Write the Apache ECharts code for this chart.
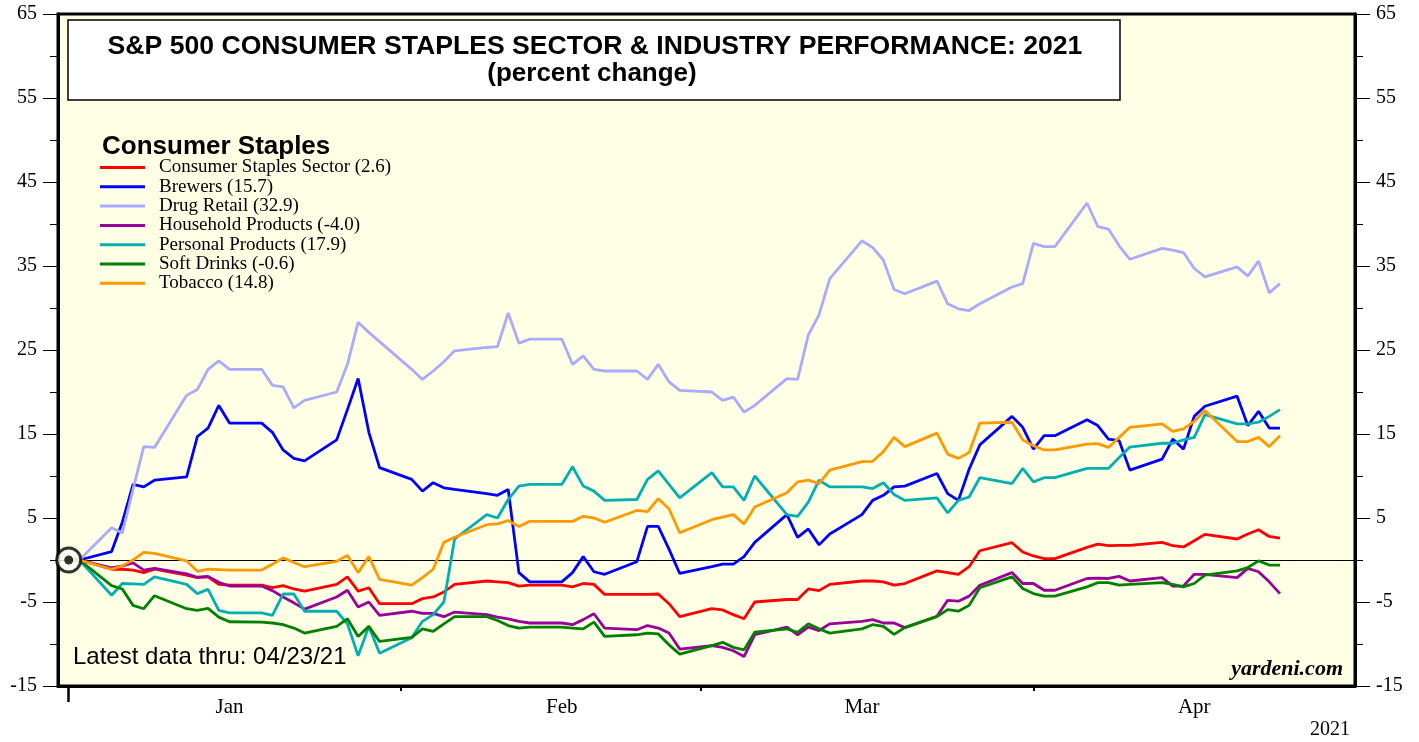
<!DOCTYPE html>
<html>
<head>
<meta charset="utf-8">
<title>S&P 500 Consumer Staples</title>
<script src="https://cdn.jsdelivr.net/npm/echarts@6/dist/echarts.min.js"></script>
<style>
  html, body { margin: 0; padding: 0; background: #fff; }
  #chart { width: 1419px; height: 742px; }
</style>
</head>
<body>
<div id="chart"></div>
<script>
// trading days (holidays carry the previous value)
var dates = [
  '2020-12-31', '2021-01-01',
  '2021-01-04', '2021-01-05', '2021-01-06', '2021-01-07', '2021-01-08',
  '2021-01-11', '2021-01-12', '2021-01-13', '2021-01-14', '2021-01-15',
  '2021-01-18', '2021-01-19', '2021-01-20', '2021-01-21', '2021-01-22',
  '2021-01-25', '2021-01-26', '2021-01-27', '2021-01-28', '2021-01-29',
  '2021-02-01', '2021-02-02', '2021-02-03', '2021-02-04', '2021-02-05',
  '2021-02-08', '2021-02-09', '2021-02-10', '2021-02-11', '2021-02-12',
  '2021-02-15', '2021-02-16', '2021-02-17', '2021-02-18', '2021-02-19',
  '2021-02-22', '2021-02-23', '2021-02-24', '2021-02-25', '2021-02-26',
  '2021-03-01', '2021-03-02', '2021-03-03', '2021-03-04', '2021-03-05',
  '2021-03-08', '2021-03-09', '2021-03-10', '2021-03-11', '2021-03-12',
  '2021-03-15', '2021-03-16', '2021-03-17', '2021-03-18', '2021-03-19',
  '2021-03-22', '2021-03-23', '2021-03-24', '2021-03-25', '2021-03-26',
  '2021-03-29', '2021-03-30', '2021-03-31', '2021-04-01', '2021-04-02',
  '2021-04-05', '2021-04-06', '2021-04-07', '2021-04-08', '2021-04-09',
  '2021-04-12', '2021-04-13', '2021-04-14', '2021-04-15', '2021-04-16',
  '2021-04-19', '2021-04-20', '2021-04-21', '2021-04-22', '2021-04-23'
];

var sector = [0, 0,
  -1.1, -1.1, -1.2, -1.5, -1.1,
  -1.8, -2.1, -2.0, -2.9, -3.0,
  -3.0, -3.3, -3.05, -3.45, -3.7,
  -2.9, -2.0, -3.7, -3.3, -5.2,
  -5.2, -4.6, -4.4, -3.8, -2.9,
  -2.5, -2.6, -2.7, -3.1, -3.0,
  -3.0, -3.2, -2.8, -2.9, -4.1,
  -4.1, -4.1, -4.05, -5.2, -6.75,
  -5.8, -5.95, -6.5, -7.0, -5.0,
  -4.7, -4.7, -3.45, -3.65, -2.9,
  -2.5, -2.5, -2.6, -3.0, -2.8,
  -1.3, -1.5, -1.7, -0.8, 1.1,
  2.06, 0.95, 0.48, 0.16, 0.16,
  1.5, 1.9, 1.7, 1.75, 1.75,
  2.1, 1.7, 1.55, 2.3, 3.05,
  2.5, 3.1, 3.6, 2.8, 2.6
];
var brewers = [0, 0,
  1.0, 4.5, 9.0, 8.7, 9.5,
  9.9, 14.7, 15.7, 18.4, 16.3,
  16.3, 15.2, 13.1, 12.1, 11.8,
  14.3, 17.9, 21.6, 15.2, 11.0,
  9.6, 8.2, 9.2, 8.6, 8.4,
  7.9, 7.7, 8.4, -1.5, -2.6,
  -2.6, -1.5, 0.4, -1.4, -1.7,
  -0.2, 4.0, 4.0, 1.3, -1.6,
  -0.8, -0.5, -0.5, 0.4, 2.1,
  5.4, 2.7, 3.7, 1.8, 3.1,
  5.4, 7.1, 7.7, 8.7, 8.8,
  10.3, 7.9, 7.1, 10.8, 13.7,
  17.1, 15.8, 13.2, 14.8, 14.8,
  16.7, 16.0, 14.4, 14.2, 10.7,
  12.0, 14.4, 13.2, 17.1, 18.3,
  19.5, 16.0, 17.7, 15.7, 15.7
];
var drugRetail = [0, 0,
  3.85, 3.2, 8.4, 13.5, 13.4,
  19.6, 20.3, 22.7, 23.7, 22.7,
  22.7, 20.8, 20.6, 18.1, 19.0,
  20.0, 23.3, 28.3, 27.1, 26.0,
  22.7, 21.5, 22.5, 23.6, 24.9,
  25.3, 25.4, 29.4, 25.8, 26.3,
  26.3, 23.3, 24.3, 22.7, 22.5,
  22.5, 21.5, 23.3, 21.2, 20.2,
  20.0, 19.0, 19.4, 17.6, 18.4,
  21.6, 21.5, 26.8, 29.2, 33.5,
  38.0, 37.2, 35.7, 32.2, 31.7,
  33.2, 30.5, 29.9, 29.7, 30.5,
  32.5, 32.9, 37.7, 37.3, 37.3,
  42.5, 39.7, 39.4, 37.4, 35.8,
  37.1, 36.9, 36.6, 34.7, 33.7,
  34.9, 33.8, 35.6, 31.8, 32.9
];
var household = [0, 0,
  -0.95, -0.7, -0.35, -1.2, -1.0,
  -1.65, -2.05, -1.95, -2.65, -3.1,
  -3.1, -3.65, -4.4, -5.1, -5.85,
  -4.4, -3.6, -5.6, -5.0, -6.6,
  -6.1, -6.35, -6.35, -6.75, -6.2,
  -6.5, -6.8, -7.0, -7.3, -7.5,
  -7.5, -7.7, -7.1, -6.4, -8.1,
  -8.3, -7.8, -8.1, -8.7, -10.6,
  -10.2, -10.4, -10.8, -11.5, -8.9,
  -8.0, -8.9, -8.0, -8.4, -7.6,
  -7.3, -7.1, -7.5, -7.5, -8.05,
  -6.7, -4.8, -4.9, -4.3, -3.0,
  -1.5, -2.8, -2.8, -3.6, -3.6,
  -2.2, -2.15, -2.2, -1.95, -2.5,
  -2.1, -3.1, -3.1, -1.7, -1.7,
  -2.1, -1.0, -1.4, -2.6, -4.0
];
var personal = [0, 0,
  -4.2, -2.8, -2.85, -2.9, -2.0,
  -2.9, -4.0, -3.5, -6.0, -6.3,
  -6.3, -6.6, -4.05, -4.05, -6.1,
  -6.1, -7.6, -11.4, -7.9, -11.1,
  -9.25, -7.3, -6.5, -5.0, 2.5,
  5.4, 5.0, 7.2, 8.8, 9.0,
  9.0, 11.1, 8.8, 8.2, 7.1,
  7.2, 9.6, 10.6, 9.0, 7.4,
  10.4, 8.7, 8.7, 7.1, 10.0,
  5.4, 5.2, 6.9, 9.5, 8.7,
  8.7, 8.5, 9.2, 7.8, 7.1,
  7.4, 5.6, 7.1, 7.5, 9.8,
  9.1, 10.9, 9.3, 9.8, 9.8,
  10.9, 10.9, 10.9, 12.2, 13.45,
  13.9, 13.9, 14.3, 14.6, 17.3,
  16.2, 16.2, 16.4, 17.1, 17.9
];
var softDrinks = [0, 0,
  -3.05, -3.45, -5.4, -5.8, -4.25,
  -5.8, -6.0, -5.75, -6.8, -7.35,
  -7.4, -7.5, -7.7, -8.1, -8.7,
  -7.9, -7.0, -9.1, -7.9, -9.7,
  -9.2, -8.2, -8.5, -7.6, -6.75,
  -6.75, -7.2, -7.8, -8.1, -8.0,
  -8.0, -8.1, -8.2, -7.4, -9.1,
  -8.9, -8.7, -8.8, -10.1, -11.2,
  -10.2, -9.8, -10.4, -10.7, -8.6,
  -8.2, -8.6, -7.6, -8.2, -8.7,
  -8.2, -7.7, -7.9, -8.85, -8.05,
  -6.75, -5.9, -6.1, -5.4, -3.3,
  -2.0, -3.4, -4.0, -4.3, -4.3,
  -3.2, -2.7, -2.7, -3.0, -2.9,
  -2.7, -2.9, -3.2, -2.8, -1.8,
  -1.3, -0.9, -0.1, -0.6, -0.6
];
var tobacco = [0, 0,
  -1.1, -0.7, 0, 0.9, 0.8,
  -0.1, -1.35, -1.1, -1.15, -1.2,
  -1.2, -0.5, 0.25, -0.3, -0.8,
  -0.15, 0.55, -1.5, 0.4, -2.3,
  -3.0, -2.1, -1.1, 2.1, 2.7,
  4.2, 4.3, 4.7, 4.0, 4.6,
  4.6, 4.6, 5.2, 5.0, 4.5,
  5.9, 5.75, 7.3, 6.1, 3.25,
  4.8, 5.1, 5.4, 4.3, 6.3,
  8.0, 9.3, 9.5, 9.1, 10.7,
  11.7, 11.75, 12.9, 14.6, 13.5,
  15.1, 12.6, 12.1, 12.8, 16.3,
  16.4, 14.3, 13.6, 13.1, 13.1,
  13.8, 13.85, 13.4, 14.6, 15.8,
  16.2, 15.3, 15.6, 16.5, 17.8,
  14.1, 14.1, 14.6, 13.5, 14.8
];

var seriesNames = [
  'Consumer Staples Sector (2.6)',
  'Brewers (15.7)',
  'Drug Retail (32.9)',
  'Household Products (-4.0)',
  'Personal Products (17.9)',
  'Soft Drinks (-0.6)',
  'Tobacco (14.8)'
];
var seriesColors = ['#ff0000', '#0000ff', '#aaaaff', '#990099', '#00b0b0', '#008000', '#ff9900'];
var seriesValues = [sector, brewers, drugRetail, household, personal, softDrinks, tobacco];

var monthNames = ['Jan', 'Feb', 'Mar', 'Apr'];
var monthLabelDates = ['2021-01-15', '2021-02-15', '2021-03-15', '2021-04-15'];
var monthEndDates = ['2021-01-31', '2021-02-28', '2021-03-31'];
var axisStart = '2020-12-30';
var axisEnd = '2021-04-30';

// x positions are days counted from 2020-12-31
function dayNum(s) {
  var p = s.split('-');
  return Math.round((Date.UTC(+p[0], +p[1] - 1, +p[2]) - Date.UTC(2020, 11, 31)) / 86400000);
}
var labelDays = monthLabelDates.map(dayNum);

var serif = '"Liberation Serif", "Times New Roman", serif';
var sans = '"Liberation Sans", Arial, sans-serif';

var chart = echarts.init(document.getElementById('chart'));

var series = seriesNames.map(function (name, i) {
  var s = {
    name: name,
    type: 'line',
    showSymbol: false,
    symbol: 'none',
    color: seriesColors[i],
    lineStyle: { color: seriesColors[i], width: 2.8 },
    data: dates.map(function (d, k) { return [dayNum(d), seriesValues[i][k]]; }),
    z: 3
  };
  if (i === 0) {
    s.markLine = {
      silent: true,
      symbol: 'none',
      label: { show: false },
      lineStyle: { color: '#000', width: 1, type: 'solid' },
      data: [{ yAxis: 0 }],
      z: 2
    };
  }
  return s;
});

// start marker
series.push({
  type: 'scatter', data: [[dayNum(dates[0]), 0]], symbol: 'circle', symbolSize: 24, silent: true,
  itemStyle: { color: '#fff', borderColor: '#000', borderWidth: 3 }, z: 10
});
series.push({
  type: 'scatter', data: [[dayNum(dates[0]), 0]], symbol: 'circle', symbolSize: 9, silent: true,
  itemStyle: { color: '#000' }, z: 11
});

var yCommon = {
  type: 'value',
  min: -15,
  max: 65,
  interval: 10,
  axisLine: { show: true, onZero: false, lineStyle: { color: '#000', width: 3 } },
  axisTick: { show: true, length: 15, lineStyle: { color: '#000', width: 1 } },
  minorTick: { show: true, splitNumber: 2, length: 8, lineStyle: { color: '#000', width: 1 } },
  splitLine: { show: false },
  axisLabel: { color: '#000', fontFamily: serif, fontSize: 20, margin: 21 }
};

chart.setOption({
  animation: false,
  backgroundColor: '#fff',
  grid: {
    left: 58, right: 64, top: 14, bottom: 56,
    show: true, backgroundColor: '#ffffe6', borderColor: '#000', borderWidth: 3,
    outerBoundsMode: 'none'
  },
  legend: {
    data: seriesNames,
    orient: 'vertical',
    left: 100,
    top: 158,
    padding: 0,
    icon: 'rect',
    itemWidth: 45,
    itemHeight: 3,
    itemGap: 0.3,
    selectedMode: false,
    textStyle: { color: '#000', fontFamily: serif, fontSize: 19, lineHeight: 19, padding: [0, 0, 0, 9] }
  },
  xAxis: [{
    type: 'value',
    min: dayNum(axisStart),
    max: dayNum(axisEnd),
    axisLine: { show: true, onZero: false, lineStyle: { color: '#000', width: 3 } },
    axisTick: { show: true, length: 5, lineStyle: { color: '#000', width: 2 }, customValues: monthEndDates.map(dayNum) },
    splitLine: { show: false },
    axisLabel: {
      customValues: labelDays,
      color: '#000', fontFamily: serif, fontSize: 21, margin: 11,
      formatter: function (v) { return monthNames[labelDays.indexOf(v)] || ''; }
    }
  }, {
    type: 'value',
    position: 'bottom',
    min: dayNum(axisStart),
    max: dayNum(axisEnd),
    axisLine: { show: false, onZero: false },
    axisTick: { show: true, length: 16, lineStyle: { color: '#000', width: 2.5 }, customValues: [dayNum('2020-12-31')] },
    splitLine: { show: false },
    axisLabel: { show: false }
  }],
  yAxis: [
    Object.assign({ position: 'left' }, yCommon),
    Object.assign({ position: 'right' }, yCommon)
  ],
  graphic: [
    { type: 'rect', shape: { x: 68, y: 20, width: 1052, height: 80 }, style: { fill: '#fff', stroke: '#000', lineWidth: 1.5 }, z: 5 },
    { type: 'text', x: 595, y: 47, z: 6, style: { text: 'S&P 500 CONSUMER STAPLES SECTOR & INDUSTRY PERFORMANCE: 2021', font: 'bold 26.6px ' + sans, fill: '#000', align: 'center', verticalAlign: 'middle' } },
    { type: 'text', x: 592, y: 74, z: 6, style: { text: '(percent change)', font: 'bold 26px ' + sans, fill: '#000', align: 'center', verticalAlign: 'middle' } },
    { type: 'text', x: 102, y: 147, z: 6, style: { text: 'Consumer Staples', font: 'bold 26px ' + sans, fill: '#000', align: 'left', verticalAlign: 'middle' } },
    { type: 'text', x: 73, y: 657, z: 6, style: { text: 'Latest data thru: 04/23/21', font: '24px ' + sans, fill: '#000', align: 'left', verticalAlign: 'middle' } },
    { type: 'text', x: 1343, y: 669, z: 6, style: { text: 'yardeni.com', font: 'italic bold 22px ' + serif, fill: '#000', align: 'right', verticalAlign: 'middle' } },
    { type: 'text', x: 1330, y: 730, z: 6, style: { text: '2021', font: '20px ' + serif, fill: '#000', align: 'center', verticalAlign: 'middle' } }
  ],
  series: series
});
</script>
</body>
</html>
